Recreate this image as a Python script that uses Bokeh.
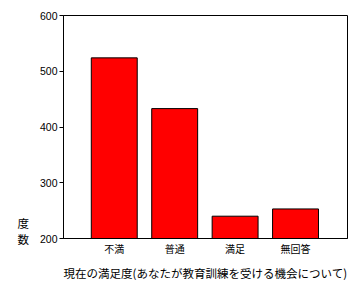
from bokeh.plotting import figure
from bokeh.models import ColumnDataSource, FixedTicker, Range1d
from bokeh.embed import file_html
from bokeh.resources import INLINE

categories = ["不満", "普通", "満足", "無回答"]
counts = [524, 433, 240, 253]
y_ticks = [200, 300, 400, 500, 600]
x_title = "現在の満足度(あなたが教育訓練を受ける機会について)"
y_title = "度\n数\n"

FONT = "Noto Sans CJK JP"
xs = list(range(1, len(categories) + 1))
src = ColumnDataSource(dict(x=xs, top=counts))

p = figure(width=362, height=290, output_backend="svg", toolbar_location=None,
           x_range=Range1d(0.16, 4.86), y_range=Range1d(200, 600),
           min_border_left=63, min_border_right=15, min_border_top=15,
           min_border_bottom=52)
p.vbar(x="x", top="top", bottom=200, width=0.76, source=src,
       fill_color="#ff0000", line_color="black", line_width=1)

p.xgrid.visible = False
p.ygrid.visible = False
p.outline_line_color = "black"
p.outline_line_alpha = 1
p.outline_line_width = 1
p.background_fill_color = "white"
p.border_fill_color = "white"

xa = p.xaxis[0]
xa.ticker = FixedTicker(ticks=xs)
xa.major_label_overrides = {i: c for i, c in zip(xs, categories)}
xa.major_tick_line_color = None
xa.major_tick_out = 0
xa.major_tick_in = 0
xa.minor_tick_line_color = None
xa.axis_line_color = "black"
xa.major_label_text_font = FONT
xa.major_label_text_font_size = "10px"
xa.major_label_text_color = "black"
xa.major_label_standoff = 2
xa.axis_label = x_title
xa.axis_label_text_font = FONT
xa.axis_label_text_font_size = "11.5px"
xa.axis_label_text_font_style = "normal"
xa.axis_label_text_color = "black"
xa.axis_label_standoff = 6

ya = p.yaxis[0]
ya.ticker = FixedTicker(ticks=y_ticks)
ya.minor_tick_line_color = None
ya.major_tick_out = 4
ya.major_tick_in = 0
ya.axis_line_color = "black"
ya.major_tick_line_color = "black"
ya.major_label_text_font = "Liberation Sans"
ya.major_label_text_font_size = "10.5px"
ya.major_label_text_color = "black"
ya.major_label_standoff = 2
ya.axis_label = y_title
ya.axis_label_orientation = "horizontal"
ya.axis_label_align = "start"
ya.axis_label_text_font = FONT
ya.axis_label_text_font_size = "11.5px"
ya.axis_label_text_font_style = "normal"
ya.axis_label_text_color = "black"
ya.axis_label_text_line_height = 0.95
ya.axis_label_standoff = 8

open("out.html", "w").write(file_html(p, INLINE))
